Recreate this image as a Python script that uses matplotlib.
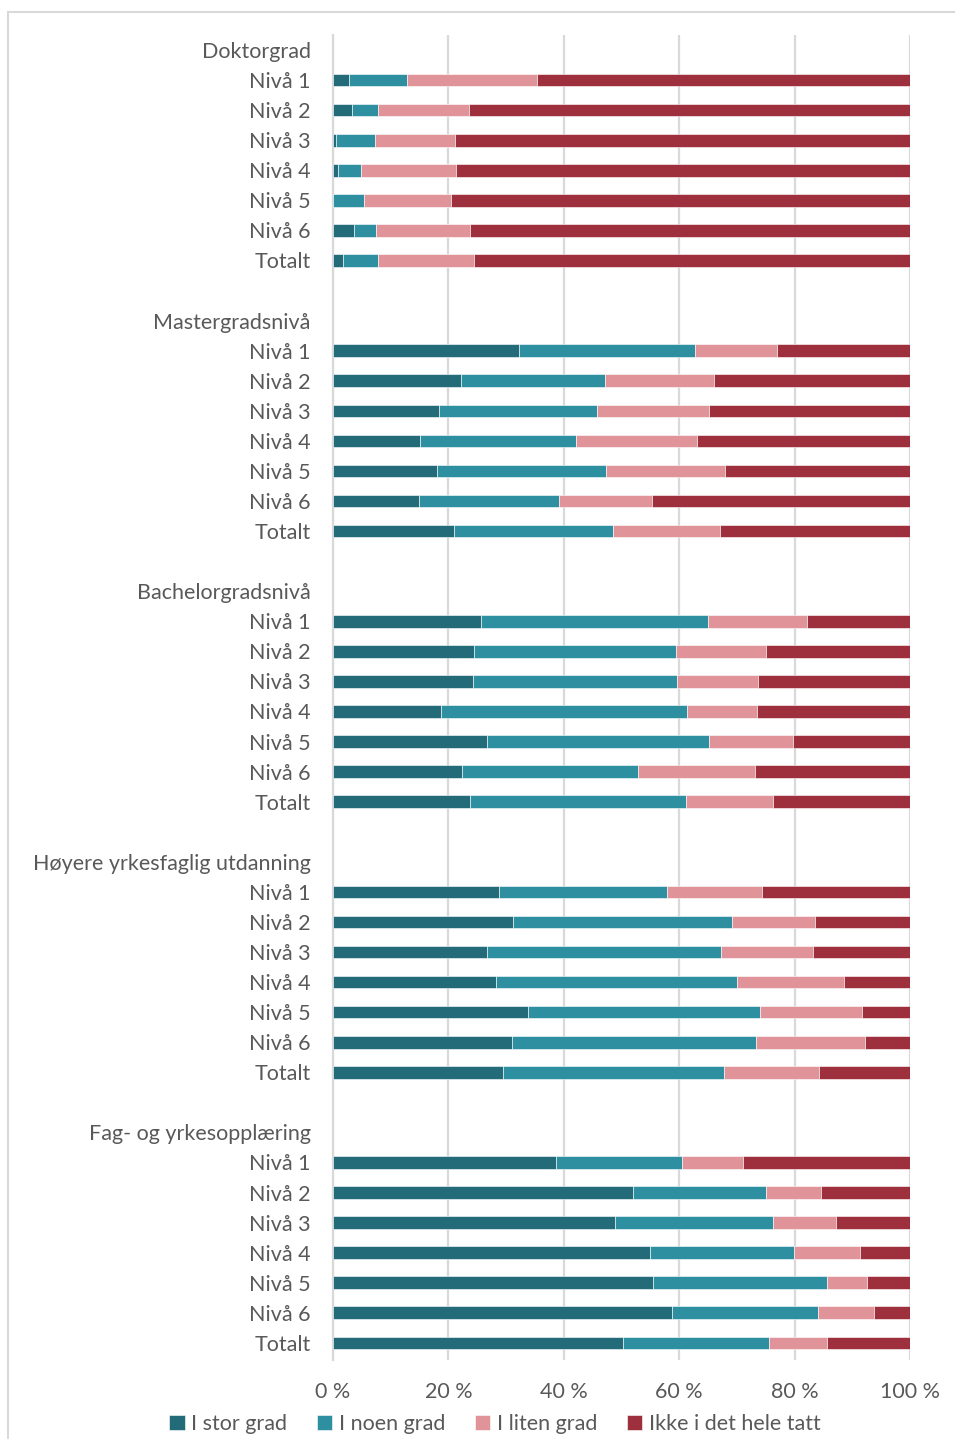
import numpy as np
import matplotlib
matplotlib.use("Agg")
import matplotlib.pyplot as plt
from matplotlib.patches import Rectangle

plt.rcParams['font.family'] = ['Lato', 'DejaVu Sans']

groups = ["Doktorgrad", "Mastergradsnivå", "Bachelorgradsnivå",
          "Høyere yrkesfaglig utdanning", "Fag- og yrkesopplæring"]
rows = ["Nivå 1", "Nivå 2", "Nivå 3", "Nivå 4", "Nivå 5", "Nivå 6", "Totalt"]
series = ["I stor grad", "I noen grad", "I liten grad", "Ikke i det hele tatt"]
colors = ["#236b78", "#2e8fa0", "#e0949a", "#9e2f3d"]

# values in percent, per group, rows Nivå 1..6 + Totalt
doktor_stor = [2.8, 3.3, 0.6, 0.8, 0.0, 3.7, 1.7]
doktor_noen = [10.1, 4.5, 6.6, 4.0, 5.3, 3.7, 6.1]
doktor_liten = [22.5, 15.7, 13.9, 16.5, 15.2, 16.4, 16.6]
doktor_ikke = [64.6, 76.5, 78.9, 78.7, 79.5, 76.2, 75.6]

master_stor = [32.3, 22.1, 18.3, 15.1, 18.1, 14.9, 21.0]
master_noen = [30.4, 25.1, 27.4, 27.1, 29.3, 24.2, 27.5]
master_liten = [14.3, 18.8, 19.4, 20.8, 20.5, 16.1, 18.5]
master_ikke = [23.0, 34.0, 34.9, 37.0, 32.1, 44.8, 33.0]

bachelor_stor = [25.7, 24.5, 24.2, 18.8, 26.7, 22.4, 23.8]
bachelor_noen = [39.3, 35.0, 35.5, 42.5, 38.5, 30.4, 37.4]
bachelor_liten = [17.1, 15.5, 13.9, 12.2, 14.6, 20.4, 15.1]
bachelor_ikke = [17.9, 25.0, 26.4, 26.5, 20.2, 26.8, 23.7]

hoyere_stor = [28.8, 31.2, 26.7, 28.3, 33.8, 31.0, 29.4]
hoyere_noen = [29.0, 38.0, 40.5, 41.7, 40.2, 42.3, 38.3]
hoyere_liten = [16.6, 14.3, 16.0, 18.6, 17.6, 18.9, 16.6]
hoyere_ikke = [25.6, 16.5, 16.8, 11.4, 8.4, 7.8, 15.7]

fag_stor = [38.7, 52.0, 48.8, 55.0, 55.4, 58.8, 50.3]
fag_noen = [21.7, 23.1, 27.4, 24.9, 30.3, 25.3, 25.3]
fag_liten = [10.7, 9.4, 11.0, 11.4, 6.9, 9.7, 10.1]
fag_ikke = [28.9, 15.5, 12.8, 8.7, 7.4, 6.2, 14.3]

group_data = [
    [doktor_stor, doktor_noen, doktor_liten, doktor_ikke],
    [master_stor, master_noen, master_liten, master_ikke],
    [bachelor_stor, bachelor_noen, bachelor_liten, bachelor_ikke],
    [hoyere_stor, hoyere_noen, hoyere_liten, hoyere_ikke],
    [fag_stor, fag_noen, fag_liten, fag_ikke],
]

# category list: header row, 7 bar rows, blank row between groups
labels = []
bar_pos = []
vals = [[] for _ in series]
for g, gname in enumerate(groups):
    if g > 0:
        labels.append("")
    labels.append(gname)
    for r, rname in enumerate(rows):
        bar_pos.append(len(labels))
        labels.append(rname)
        for s in range(4):
            vals[s].append(group_data[g][s][r])

vals = [np.array(v) for v in vals]
bar_pos = np.array(bar_pos)

fig = plt.figure(figsize=(9.55, 14.39), dpi=100)
ax = fig.add_axes([333 / 955, 1 - 1360 / 1439, 577 / 955, 1325 / 1439])

left = np.zeros(len(bar_pos))
for s in range(4):
    ax.barh(bar_pos, vals[s], left=left, height=0.42, color=colors[s],
            label=series[s], edgecolor="white", linewidth=0.4, zorder=3)
    left = left + vals[s]

ax.set_xlim(0, 100)
ax.set_ylim(43.57, -0.5)
ax.set_yticks(np.arange(len(labels)))
ax.set_yticklabels(labels)
ax.set_xticks([0, 20, 40, 60, 80, 100])
ax.set_xticklabels(["0 %", "20 %", "40 %", "60 %", "80 %", "100 %"])
ax.tick_params(axis="both", length=0, labelsize=15.5, labelcolor="#595959")
ax.tick_params(axis="y", pad=16)
ax.tick_params(axis="x", pad=16)
ax.grid(axis="x", color="#d9d9d9", linewidth=1.6, zorder=0)
for side in ["top", "right", "bottom"]:
    ax.spines[side].set_visible(False)
ax.spines["left"].set_color("#d9d9d9")
ax.spines["left"].set_linewidth(1.6)

fig.legend(loc="center", bbox_to_anchor=(495 / 955, 1 - 1424 / 1439), ncol=4,
           frameon=False, fontsize=15.5, handlelength=0.7, handleheight=0.7,
           handletextpad=0.3, columnspacing=1.4, labelcolor="#595959")

fig.patches.append(Rectangle((8 / 955, -0.05), 1.0, 1 - 12 / 1439 + 0.05,
                             transform=fig.transFigure, fill=False,
                             edgecolor="#d9d9d9", linewidth=1.5))

fig.savefig("out.png", dpi=100)
